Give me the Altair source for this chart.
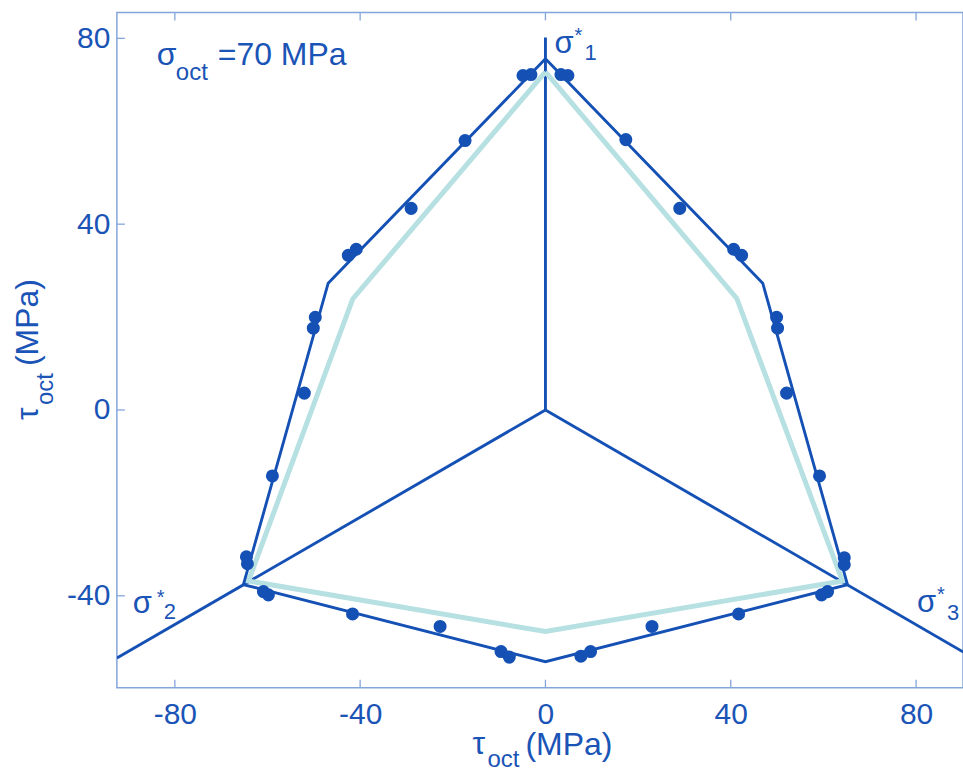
import altair as alt
import pandas as pd

# ---- data ----
outer_x = [0, -46.9, -65.2, 0, 65.2, 46.9, 0]
outer_y = [75.6, 27.3, -37.6, -54.2, -37.6, 27.3, 75.6]

inner_x = [0, -41.6, -64.1, 0, 64.1, 41.3, 0]
inner_y = [72.8, 23.9, -36.8, -47.7, -36.8, 24.0, 72.8]

pts_x = [-4.85, -3.13, -17.35, -28.99, -40.84, -42.56, -49.68, -50.11, -52.05,
         -58.94, -64.55, -64.33, -60.88, -59.8, -41.64, -22.74, -9.59, -7.8,
         4.85, 3.34, 17.35, 28.99, 40.62, 42.35, 49.89, 50.1, 52.05,
         59.16, 64.5, 64.5, 60.9, 59.6, 41.7, 23.0, 9.74, 7.65]
pts_y = [72.0, 72.2, 58.0, 43.4, 34.6, 33.3, 19.96, 17.6, 3.63,
         -14.2, -31.6, -33.1, -39.1, -39.8, -43.9, -46.6, -52.0, -53.2,
         72.0, 72.2, 58.2, 43.4, 34.6, 33.3, 19.96, 17.6, 3.63,
         -14.2, -31.8, -33.3, -39.1, -39.8, -43.9, -46.6, -52.0, -53.0]

axis_end_x = [0, -92.5, 90.2]
axis_end_y = [80.2, -53.4, -52.1]
axis_names = ["s1", "s2", "s3"]

x_ticks = [-80, -40, 0, 40, 80]
y_ticks = [-40, 0, 40, 80]

# ---- styling ----
DARK = "#1551b5"
LIGHT = "#b6e0e1"
FRAME = "#84a5dc"
TXT = "#1a54b6"
FONT = "Liberation Sans"
W, H = 847, 676
XDOM = [-92.51, 90.13]
YDOM = [-59.78, 85.59]
LBL = "datum.value < 0 ? '-' + abs(datum.value) : '' + datum.value"

xs = alt.Scale(domain=XDOM, nice=False, zero=False)
ys = alt.Scale(domain=YDOM, nice=False, zero=False)

# radial axis lines
rad_rows = []
for n, ex, ey in zip(axis_names, axis_end_x, axis_end_y):
    rad_rows.append({"g": n, "o": 0, "x": 0.0, "y": 0.0})
    rad_rows.append({"g": n, "o": 1, "x": ex, "y": ey})
rad_df = pd.DataFrame(rad_rows)

radial = alt.Chart(rad_df).mark_line(color=DARK, strokeWidth=2.9, clip=True).encode(
    x=alt.X("x:Q", scale=xs,
            axis=alt.Axis(values=x_ticks, title=None, grid=False, domain=False, ticks=False,
                          tickSize=0, labelPadding=12, labelFontSize=30, labelFont=FONT,
                          labelColor=TXT, orient="bottom", labelExpr=LBL)),
    y=alt.Y("y:Q", scale=ys,
            axis=alt.Axis(values=y_ticks, title=None, grid=False, domain=False, ticks=False,
                          tickSize=0, labelPadding=7, labelFontSize=30, labelFont=FONT,
                          labelColor=TXT, orient="left", labelExpr=LBL)),
    detail="g:N",
    order="o:Q",
)

inner_df = pd.DataFrame({"x": inner_x, "y": inner_y, "o": list(range(len(inner_x)))})
inner = alt.Chart(inner_df).mark_line(color=LIGHT, strokeWidth=5, clip=True).encode(
    x=alt.X("x:Q", scale=xs), y=alt.Y("y:Q", scale=ys), order="o:Q")

outer_df = pd.DataFrame({"x": outer_x, "y": outer_y, "o": list(range(len(outer_x)))})
outer = alt.Chart(outer_df).mark_line(color=DARK, strokeWidth=2.9, clip=True).encode(
    x=alt.X("x:Q", scale=xs), y=alt.Y("y:Q", scale=ys), order="o:Q")

pts_df = pd.DataFrame({"x": pts_x, "y": pts_y})
points = alt.Chart(pts_df).mark_circle(color=DARK, size=170, opacity=1).encode(
    x=alt.X("x:Q", scale=xs), y=alt.Y("y:Q", scale=ys))

# inward ticks
xt_df = pd.DataFrame({"v": x_ticks})
yt_df = pd.DataFrame({"v": y_ticks})
tick_bot = alt.Chart(xt_df).mark_rule(color=FRAME, strokeWidth=1.3).encode(
    x=alt.X("v:Q", scale=xs), y=alt.value(H - 8), y2=alt.value(H))
tick_top = alt.Chart(xt_df).mark_rule(color=FRAME, strokeWidth=1.3).encode(
    x=alt.X("v:Q", scale=xs), y=alt.value(0), y2=alt.value(8))
tick_left = alt.Chart(yt_df).mark_rule(color=FRAME, strokeWidth=1.3).encode(
    y=alt.Y("v:Q", scale=ys), x=alt.value(0), x2=alt.value(8))


def txt(s, x, y, size, angle=0):
    return alt.Chart(pd.DataFrame({"t": [s]})).mark_text(
        font=FONT, fontSize=size, color=TXT, align="left", baseline="alphabetic",
        angle=angle).encode(text="t:N", x=alt.value(x), y=alt.value(y))


texts = [
    # x title
    txt("τ", 356, 742, 32), txt("oct", 371, 755, 24), txt("(MPa)", 409, 743, 32),
    # y title (rotated)
    txt("τ", -79, 408, 32, 270), txt("oct", -64, 393, 24, 270), txt("(MPa)", -79, 354, 32, 270),
    # sigma_oct annotation
    txt("σ", 40, 53, 32), txt("oct", 59, 68, 24), txt("=70 MPa", 101, 53, 32),
    # sigma*1
    txt("σ", 438, 41, 31), txt("*", 458, 30, 20), txt("1", 468, 48, 22),
    # sigma*2
    txt("σ", 16, 601, 31), txt("*", 40, 592, 20), txt("2", 47, 607, 22),
    # sigma*3
    txt("σ", 801, 600, 31), txt("*", 821, 589, 20), txt("3", 831, 608, 22),
]

chart = alt.layer(radial, inner, outer, points, tick_bot, tick_top, tick_left, *texts).properties(
    width=W, height=H,
    padding={"left": 117, "top": 12, "right": 0, "bottom": 83},
    autosize=alt.AutoSizeParams(type="none"),
    background="white",
).configure_view(stroke=FRAME, strokeWidth=1.5)

chart.save("out.html", embed_options={"renderer": "svg", "actions": False})
